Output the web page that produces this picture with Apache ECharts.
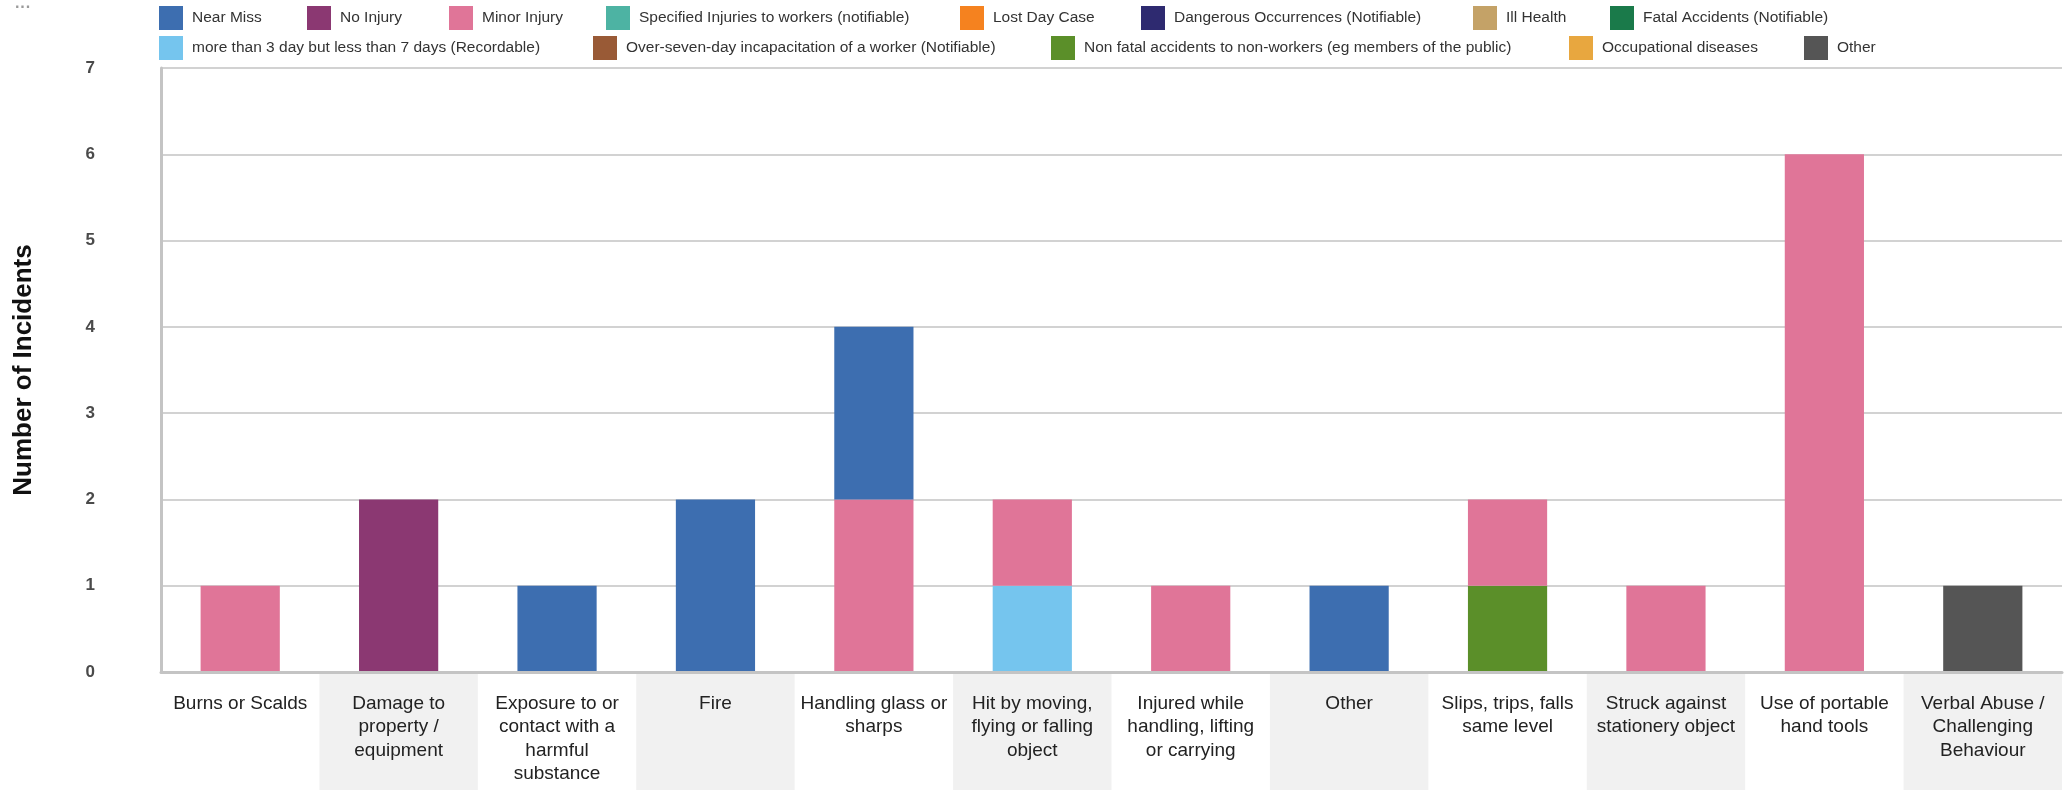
<!DOCTYPE html>
<html>
<head>
<meta charset="utf-8">
<script src="https://cdn.jsdelivr.net/npm/echarts@6/dist/echarts.min.js"></script>
<style>
  html, body { margin: 0; padding: 0; background: #ffffff; }
  #chart { width: 2071px; height: 790px; }
</style>
</head>
<body>
<div id="chart"></div>
<script>
// Incident categories (tick labels are wrapped as they appear under each band)
const categories = [
  'Burns or Scalds',
  'Damage to property / equipment',
  'Exposure to or contact with a harmful substance',
  'Fire',
  'Handling glass or sharps',
  'Hit by moving, flying or falling object',
  'Injured while handling, lifting or carrying',
  'Other',
  'Slips, trips, falls same level',
  'Struck against stationery object',
  'Use of portable hand tools',
  'Verbal Abuse / Challenging Behaviour'
];
const tickLabels = [
  'Burns or Scalds',
  'Damage to\nproperty /\nequipment',
  'Exposure to or\ncontact with a\nharmful\nsubstance',
  'Fire',
  'Handling glass or\nsharps',
  'Hit by moving,\nflying or falling\nobject',
  'Injured while\nhandling, lifting\nor carrying',
  'Other',
  'Slips, trips, falls\nsame level',
  'Struck against\nstationery object',
  'Use of portable\nhand tools',
  'Verbal Abuse /\nChallenging\nBehaviour'
];

// Outcome types, in legend order
const outcomeNames = [
  'Near Miss',
  'No Injury',
  'Minor Injury',
  'Specified Injuries to workers (notifiable)',
  'Lost Day Case',
  'Dangerous Occurrences (Notifiable)',
  'Ill Health',
  'Fatal Accidents (Notifiable)',
  'more than 3 day but less than 7 days (Recordable)',
  'Over-seven-day incapacitation of a worker (Notifiable)',
  'Non fatal accidents to non-workers (eg members of the public)',
  'Occupational diseases',
  'Other'
];

// Incident counts per outcome type, one value per category
const nearMiss      = [0, 0, 1, 2, 2, 0, 0, 1, 0, 0, 0, 0];
const noInjury      = [0, 2, 0, 0, 0, 0, 0, 0, 0, 0, 0, 0];
const minorInjury   = [1, 0, 0, 0, 2, 1, 1, 0, 1, 1, 6, 0];
const specified     = [0, 0, 0, 0, 0, 0, 0, 0, 0, 0, 0, 0];
const lostDay       = [0, 0, 0, 0, 0, 0, 0, 0, 0, 0, 0, 0];
const dangerous     = [0, 0, 0, 0, 0, 0, 0, 0, 0, 0, 0, 0];
const illHealth     = [0, 0, 0, 0, 0, 0, 0, 0, 0, 0, 0, 0];
const fatal         = [0, 0, 0, 0, 0, 0, 0, 0, 0, 0, 0, 0];
const threeToSeven  = [0, 0, 0, 0, 0, 1, 0, 0, 0, 0, 0, 0];
const overSeven     = [0, 0, 0, 0, 0, 0, 0, 0, 0, 0, 0, 0];
const nonWorkers    = [0, 0, 0, 0, 0, 0, 0, 0, 1, 0, 0, 0];
const occupational  = [0, 0, 0, 0, 0, 0, 0, 0, 0, 0, 0, 0];
const otherOutcome  = [0, 0, 0, 0, 0, 0, 0, 0, 0, 0, 0, 1];

const outcomeValues = [
  nearMiss, noInjury, minorInjury, specified, lostDay, dangerous, illHealth,
  fatal, threeToSeven, overSeven, nonWorkers, occupational, otherOutcome
];

const outcomeColors = [
  '#3d6eb0', '#8b3872', '#e07598', '#4db3a3', '#f5821f', '#2e2a70', '#c4a267',
  '#1a7a4a', '#75c5ee', '#995a36', '#5b8f29', '#e8a73f', '#555555'
];

const yTicks = { min: 0, max: 7, interval: 1 };

const chart = echarts.init(document.getElementById('chart'), null, { renderer: 'canvas' });

const FONT = '"Liberation Sans", Arial, sans-serif';

// Stacks are built from the last outcome upwards, so Near Miss sits on top
const series = [];
for (let i = outcomeNames.length - 1; i >= 0; i--) {
  series.push({
    name: outcomeNames[i],
    type: 'bar',
    stack: 'incidents',
    xAxisIndex: 0,
    yAxisIndex: 0,
    barWidth: '50%',
    itemStyle: { color: outcomeColors[i] },
    emphasis: { disabled: true },
    data: outcomeValues[i]
  });
}

// Legend keys sit in fixed column slots across two rows
const legendSlots = [
  [159, 6], [307, 6], [449, 6], [606, 6], [960, 6], [1141, 6], [1473, 6], [1610, 6],
  [159, 36], [593, 36], [1051, 36], [1569, 36], [1804, 36]
];
const legends = outcomeNames.map((name, i) => ({
  orient: 'horizontal',
  left: legendSlots[i][0],
  top: legendSlots[i][1],
  padding: 0,
  itemWidth: 24,
  itemHeight: 24,
  icon: 'rect',
  selectedMode: false,
  data: [name],
  textStyle: { fontFamily: FONT, fontSize: 15.5, color: '#333', padding: [0, 0, 0, 4] }
}));

chart.setOption({
  animation: false,
  backgroundColor: '#ffffff',
  color: outcomeColors,
  graphic: [{
    type: 'text',
    left: 15,
    top: 0,
    style: { text: '···', fill: '#9a9a9a', font: 'bold 16px ' + FONT }
  }],
  legend: legends,
  grid: [
    { left: 161, right: 9, top: 68, bottom: 118, containLabel: false },
    { left: 161, right: 9, top: 674, bottom: 0, containLabel: false }
  ],
  xAxis: [
    {
      type: 'category',
      gridIndex: 0,
      data: categories,
      z: 3,
      axisLine: { show: true, lineStyle: { color: '#c4c4c4', width: 3 } },
      axisTick: { show: false },
      splitLine: { show: false },
      axisLabel: {
        interval: 0,
        margin: 20,
        fontFamily: FONT,
        fontSize: 19,
        lineHeight: 23.5,
        color: '#222',
        align: 'center',
        verticalAlign: 'top',
        formatter: (v, idx) => tickLabels[idx]
      }
    },
    {
      // alternate shading under the tick labels
      type: 'category',
      gridIndex: 1,
      data: categories,
      z: 0,
      axisLine: { show: false },
      axisTick: { show: false, interval: 0 },
      axisLabel: { show: false, interval: 0 },
      splitLine: { show: false, interval: 0 },
      splitArea: { show: true, interval: 0, areaStyle: { color: ['rgba(0,0,0,0)', '#f1f1f1'] } }
    }
  ],
  yAxis: [
    {
      type: 'value',
      gridIndex: 0,
      min: yTicks.min,
      max: yTicks.max,
      interval: yTicks.interval,
      name: 'Number of Incidents',
      nameLocation: 'middle',
      nameGap: 124,
      nameRotate: 90,
      nameTextStyle: { fontFamily: FONT, fontSize: 26, fontWeight: 'bold', color: '#111' },
      axisLine: { show: true, lineStyle: { color: '#c4c4c4', width: 3 } },
      axisTick: { show: false },
      splitLine: { show: true, lineStyle: { color: '#d2d2d2', width: 2 } },
      axisLabel: {
        margin: 66,
        fontFamily: FONT,
        fontSize: 17,
        fontWeight: 'bold',
        color: '#4a4a4a'
      }
    },
    {
      type: 'value',
      gridIndex: 1,
      show: false,
      axisLine: { show: false },
      splitLine: { show: false },
      axisLabel: { show: false }
    }
  ],
  series: series
});
</script>
</body>
</html>
